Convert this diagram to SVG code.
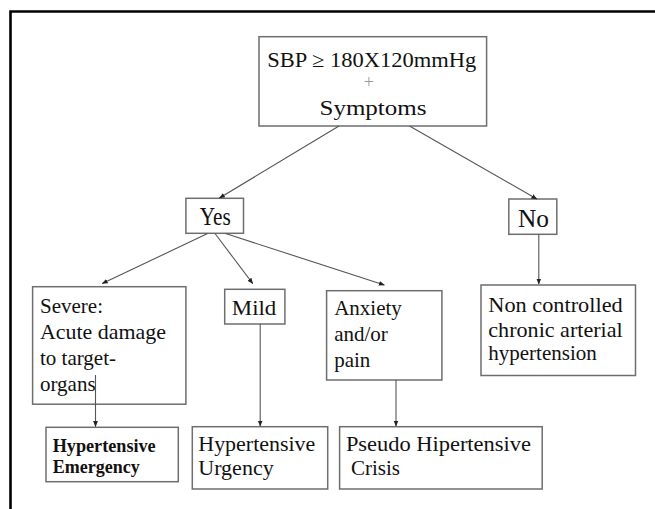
<svg xmlns="http://www.w3.org/2000/svg" width="655" height="509" viewBox="0 0 655 509">
<style>
.box{fill:#fff;stroke:#6e6e6e;stroke-width:1.5}
text{font-family:'Liberation Serif','Times New Roman',Times,'DejaVu Serif',serif;fill:#111}
.b{font-weight:bold}
.c{fill:none;stroke:#555;stroke-width:1.1}
</style>
<defs>
<marker id="ah" viewBox="0 0 10 10" refX="9" refY="5" markerWidth="6" markerHeight="6" markerUnits="userSpaceOnUse" orient="auto">
<path d="M0,1 L10,5 L0,9 Z" fill="#222"/>
</marker>
</defs>
<rect width="655" height="509" fill="#fff"/>
<path d="M10.5,509 V11.5 H655" fill="none" stroke="#000" stroke-width="2.6"/>

<g id="top">
<rect class="box" x="259" y="36.7" width="227.6" height="89.3"/>
<text font-family="Liberation Serif, serif" x="267.3" y="66.7" font-size="21" textLength="209" lengthAdjust="spacingAndGlyphs">SBP ≥ 180X120mmHg</text>
<text font-family="Liberation Serif, serif" x="368.8" y="88" font-size="18" text-anchor="middle" style="fill:#999">+</text>
<text font-family="Liberation Serif, serif" x="319.5" y="115" font-size="22" textLength="107" lengthAdjust="spacingAndGlyphs">Symptoms</text>
</g>

<g id="yes">
<rect class="box" x="185.9" y="198.3" width="57.6" height="35"/>
<text font-family="Liberation Serif, serif" x="199.7" y="225" font-size="25" textLength="31" lengthAdjust="spacingAndGlyphs">Yes</text>
</g>

<g id="no">
<rect class="box" x="508.8" y="199" width="48" height="35.3"/>
<text font-family="Liberation Serif, serif" x="518" y="226.7" font-size="25" textLength="31" lengthAdjust="spacingAndGlyphs">No</text>
</g>

<g id="severe">
<rect class="box" x="32.6" y="286.7" width="153.3" height="117.5"/>
<text font-family="Liberation Serif, serif" font-size="21">
<tspan x="40" y="313">Severe:</tspan>
<tspan x="40" y="339" textLength="126" lengthAdjust="spacingAndGlyphs">Acute damage</tspan>
<tspan x="40" y="365">to target-</tspan>
<tspan x="40" y="391">organs</tspan>
</text>
</g>

<g id="mild">
<rect class="box" x="224.7" y="289.3" width="60.2" height="34.7"/>
<text font-family="Liberation Serif, serif" x="231.8" y="315" font-size="21" textLength="44.5" lengthAdjust="spacingAndGlyphs">Mild</text>
</g>

<g id="anxiety">
<rect class="box" x="326.6" y="290.7" width="115.3" height="89.3"/>
<text font-family="Liberation Serif, serif" font-size="21">
<tspan x="334.2" y="315">Anxiety</tspan>
<tspan x="334.2" y="341">and/or</tspan>
<tspan x="334.2" y="367">pain</tspan>
</text>
</g>

<g id="noncontrolled">
<rect class="box" x="481" y="285" width="154.5" height="90.5"/>
<text font-family="Liberation Serif, serif" font-size="21">
<tspan x="488.3" y="311.7" textLength="134.4" lengthAdjust="spacingAndGlyphs">Non controlled</tspan>
<tspan x="488.3" y="336.7" textLength="134.4" lengthAdjust="spacingAndGlyphs">chronic arterial</tspan>
<tspan x="488.3" y="360">hypertension</tspan>
</text>
</g>

<g id="emergency">
<rect class="box" x="46" y="427.3" width="132.3" height="54.4"/>
<text class="b" font-family="Liberation Serif, serif" font-size="18">
<tspan x="52.7" y="452.3" textLength="103" lengthAdjust="spacingAndGlyphs">Hypertensive</tspan>
<tspan x="52.7" y="473.3">Emergency</tspan>
</text>
</g>

<g id="urgency">
<rect class="box" x="192.3" y="426.7" width="135.4" height="62.3"/>
<text font-family="Liberation Serif, serif" font-size="22">
<tspan x="198.3" y="450.7" textLength="117" lengthAdjust="spacingAndGlyphs">Hypertensive</tspan>
<tspan x="198.3" y="475">Urgency</tspan>
</text>
</g>

<g id="pseudo">
<rect class="box" x="339.6" y="426.7" width="202.6" height="62.3"/>
<text font-family="Liberation Serif, serif" font-size="21">
<tspan x="345.9" y="451" textLength="185" lengthAdjust="spacingAndGlyphs">Pseudo Hipertensive</tspan>
<tspan x="350.9" y="475">Crisis</tspan>
</text>
</g>

<g id="connectors">
<line class="c" x1="339" y1="126" x2="219.5" y2="198" marker-end="url(#ah)"/>
<line class="c" x1="409.5" y1="126" x2="536.8" y2="199" marker-end="url(#ah)"/>
<line class="c" x1="207.6" y1="233.5" x2="102.3" y2="283.5" marker-end="url(#ah)"/>
<line class="c" x1="215" y1="233.5" x2="252.7" y2="283.5" marker-end="url(#ah)"/>
<line class="c" x1="225.6" y1="233.5" x2="384.3" y2="285" marker-end="url(#ah)"/>
<line class="c" x1="538.8" y1="234.5" x2="538.8" y2="284" marker-end="url(#ah)"/>
<line class="c" x1="95.5" y1="375" x2="95.5" y2="426.5" marker-end="url(#ah)"/>
<line class="c" x1="260.2" y1="324" x2="260.2" y2="426" marker-end="url(#ah)"/>
<line class="c" x1="396" y1="380" x2="396" y2="426" marker-end="url(#ah)"/>
</g>
</svg>
